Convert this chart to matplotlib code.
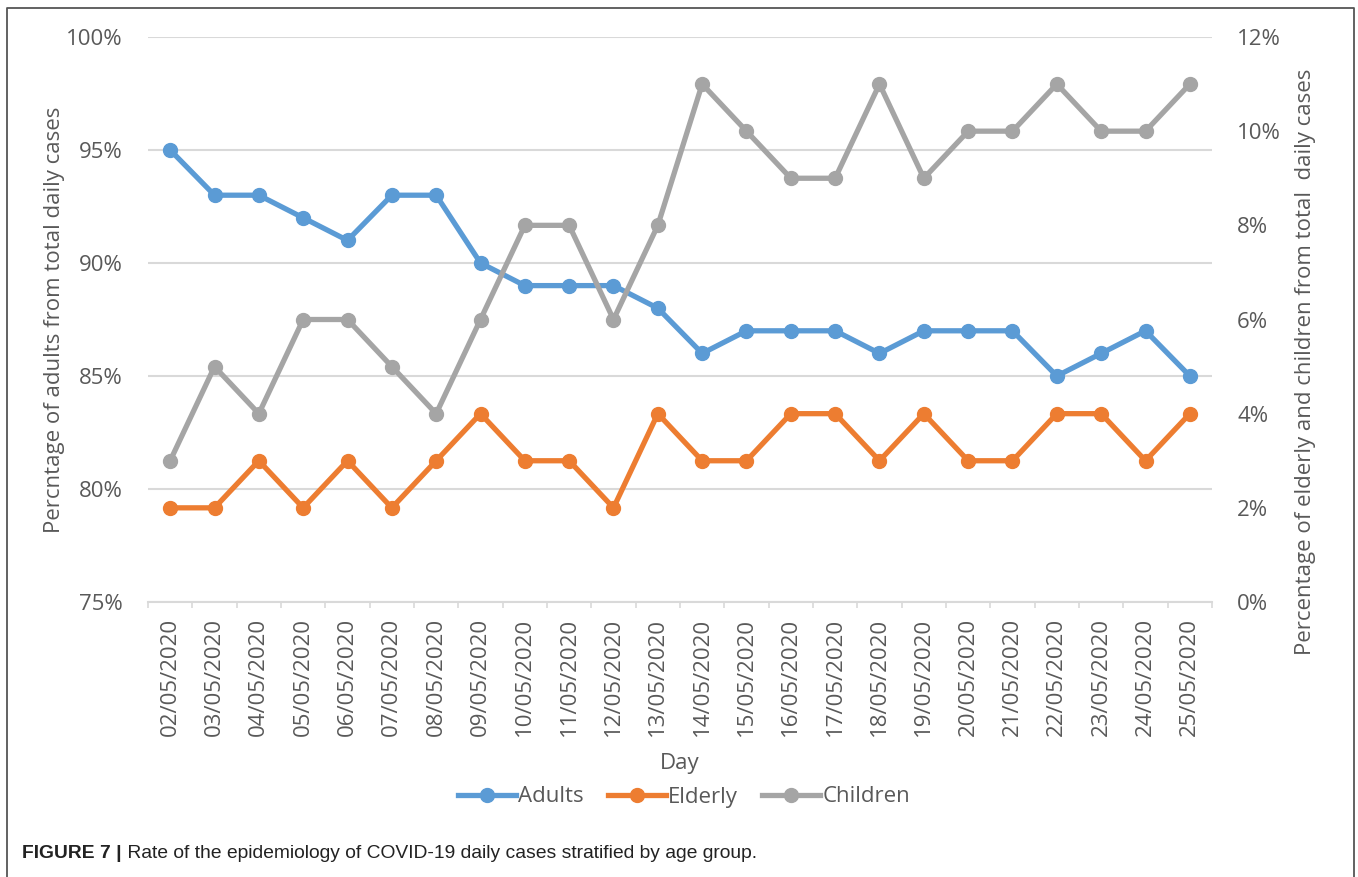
import matplotlib
matplotlib.use("Agg")
import matplotlib.pyplot as plt
from matplotlib.ticker import PercentFormatter, FixedLocator
from matplotlib.lines import Line2D

# ---- data ----
days = ["02/05/2020", "03/05/2020", "04/05/2020", "05/05/2020", "06/05/2020",
        "07/05/2020", "08/05/2020", "09/05/2020", "10/05/2020", "11/05/2020",
        "12/05/2020", "13/05/2020", "14/05/2020", "15/05/2020", "16/05/2020",
        "17/05/2020", "18/05/2020", "19/05/2020", "20/05/2020", "21/05/2020",
        "22/05/2020", "23/05/2020", "24/05/2020", "25/05/2020"]
adults = [95, 93, 93, 92, 91, 93, 93, 90, 89, 89, 89, 88,
          86, 87, 87, 87, 86, 87, 87, 87, 85, 86, 87, 85]
elderly = [2, 2, 3, 2, 3, 2, 3, 4, 3, 3, 2, 4,
           3, 3, 4, 4, 3, 4, 3, 3, 4, 4, 3, 4]
children = [3, 5, 4, 6, 6, 5, 4, 6, 8, 8, 6, 8,
            11, 10, 9, 9, 11, 9, 10, 10, 11, 10, 10, 11]
left_ticks = [75, 80, 85, 90, 95, 100]
right_ticks = [0, 2, 4, 6, 8, 10, 12]

W, H = 1358, 877
FONT = "Open Sans"
TXT = "#595959"
GRID = "#d9d9d9"
C_AD, C_EL, C_CH = "#5B9BD5", "#ED7D31", "#A5A5A5"
FS = 16

fig = plt.figure(figsize=(W / 100, H / 100), dpi=100)
fig.patch.set_facecolor("white")

def fx(px):
    return px / W

def fy(py):
    return 1 - py / H

ax = fig.add_axes([fx(148), fy(602), (1212 - 148) / W, (602 - 37) / H])
ax2 = ax.twinx()

x = list(range(len(days)))
lw, ms = 3.8, 10
l1, = ax.plot(x, adults, color=C_AD, lw=lw, marker="o", ms=ms, label="Adults",
              solid_joinstyle="round")
l2, = ax2.plot(x, elderly, color=C_EL, lw=lw, marker="o", ms=ms, label="Elderly",
               solid_joinstyle="round")
l3, = ax2.plot(x, children, color=C_CH, lw=lw, marker="o", ms=ms, label="Children",
               solid_joinstyle="round")

ax.set_xlim(-0.5, len(days) - 0.5)
ax.set_ylim(75, 100)
ax2.set_ylim(0, 12)
ax.set_yticks(left_ticks)
ax2.set_yticks(right_ticks)
ax.yaxis.set_major_formatter(PercentFormatter(100, decimals=0))
ax2.yaxis.set_major_formatter(PercentFormatter(100, decimals=0))

ax.set_xticks(x)
ax.set_xticklabels(days, rotation=90, fontsize=FS, color=TXT, family=FONT)
ax.xaxis.set_minor_locator(FixedLocator([i - 0.5 for i in range(len(days) + 1)]))
ax.tick_params(axis="x", which="major", length=0, pad=11.5)
ax.tick_params(axis="x", which="minor", length=4, width=1.2, color=GRID, direction="out")

ax.tick_params(axis="y", length=0, pad=18.5, labelsize=FS, labelcolor=TXT)
ax2.tick_params(axis="y", length=0, pad=18, labelsize=FS, labelcolor=TXT)
for lab in ax.get_yticklabels() + ax2.get_yticklabels():
    lab.set_family(FONT)

ax.grid(axis="y", color=GRID, lw=1.5)
ax.set_axisbelow(True)
for a in (ax, ax2):
    for s in ("top", "left", "right", "bottom"):
        a.spines[s].set_visible(False)
ax.spines["bottom"].set_visible(True)
ax.spines["bottom"].set_color(GRID)
ax.spines["bottom"].set_linewidth(1.5)

# axis titles
fig.text(fx(55), fy(320), "Percntage of adults from total daily cases", rotation=90,
         ha="center", va="center", fontsize=FS, color=TXT, family=FONT)
fig.text(fx(1305), fy(362), "Percentage of elderly and children from total  daily cases",
         rotation=90, ha="center", va="center", fontsize=FS, color=TXT, family=FONT)
fig.text(fx(680), fy(763), "Day", ha="center", va="center", fontsize=FS, color=TXT,
         family=FONT)

leg = fig.legend(handles=[l1, l2, l3], loc="center", ncol=3, frameon=False,
                 bbox_to_anchor=(fx(684), fy(797)), handlelength=2.6,
                 handletextpad=0.1, columnspacing=1.1,
                 prop={"family": FONT, "size": FS})
for t in leg.get_texts():
    t.set_color(TXT)

# border (open at the bottom)
fig.add_artist(Line2D([fx(7), fx(7), fx(1354), fx(1354)], [0, fy(8), fy(8), 0],
                      transform=fig.transFigure, color="#555555", lw=1.3))

# caption
t1 = fig.text(fx(22), fy(853), "FIGURE 7 |", ha="left", va="center",
              fontsize=13.9, fontweight="bold", color="#222222", family="Liberation Sans")
ax.annotate(" Rate of the epidemiology of COVID-19 daily cases stratified by age group.",
            xy=(1, 0), xycoords=t1, ha="left", va="bottom", fontsize=13.9,
            color="#222222", family="Liberation Sans", annotation_clip=False)

fig.savefig("out.png", dpi=100, facecolor="white")
